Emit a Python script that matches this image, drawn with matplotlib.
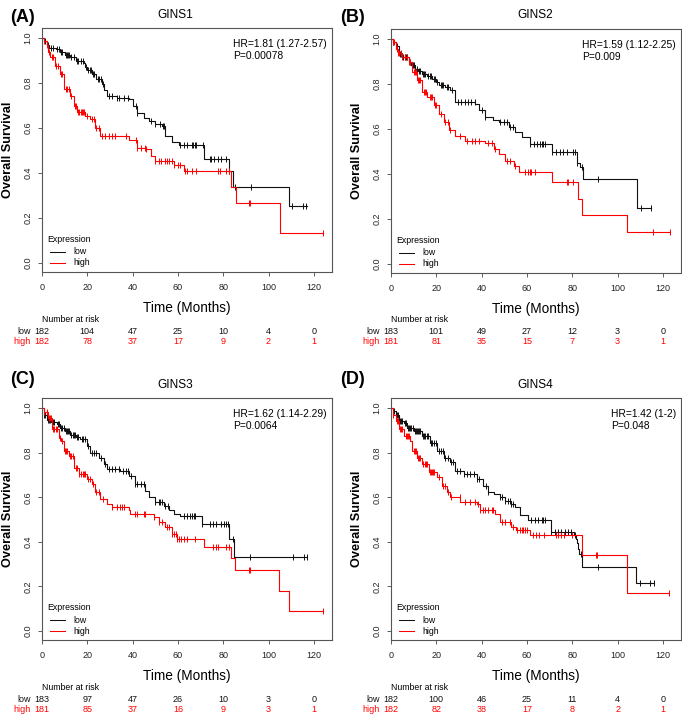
import numpy as np
import matplotlib
matplotlib.use("Agg")
import matplotlib.pyplot as plt

plt.rcParams["font.family"] = ["Liberation Sans", "DejaVu Sans"]

# ---- GINS1 ----
gins1_low_t = [0, 1, 2, 3, 6, 8, 10, 12.5, 15, 18.4, 19, 20, 22, 24, 26.5, 27.5, 28.7, 33, 38.3, 40, 42,
               45, 47.1, 50, 53, 54.5, 57.4, 60.4, 71.4, 82.5, 84.4, 109, 117]
gins1_low_s = [1.0, 0.985, 0.97, 0.955, 0.95, 0.94, 0.925, 0.914, 0.90, 0.891, 0.87, 0.86, 0.84, 0.82,
               0.795, 0.77, 0.743, 0.735, 0.728, 0.70, 0.668, 0.645, 0.631, 0.62, 0.608, 0.563, 0.54,
               0.523, 0.463, 0.408, 0.336, 0.252, 0.252]
gins1_low_cens = [1.5, 2.5, 4, 5, 6.5, 7.5, 8.5, 9, 10.5, 11, 11.5, 12, 13, 14, 15.5, 16, 17, 18, 19.5,
                  20.5, 21, 21.5, 22.5, 23, 24.5, 25, 26, 27, 29.5, 31, 33, 34, 36, 38, 41.3, 42, 48, 50,
                  52, 53.5, 54, 61, 62.5, 64, 66, 66.7, 67.5, 68, 71, 74, 74.5, 76, 77.5, 79, 81, 82.5,
                  85, 92.3, 110.5, 115, 116.5]
gins1_high_t = [0, 1, 2, 2.8, 3.7, 5.9, 8.1, 9.85, 12.5, 14, 15.5, 19.1, 21.3, 23.6, 25.8, 38.3, 42, 46,
                48, 50, 58.2, 62.6, 83.2, 85.5, 104.9, 124]
gins1_high_s = [1.0, 0.985, 0.97, 0.94, 0.914, 0.876, 0.839, 0.772, 0.743, 0.698, 0.672, 0.655, 0.639,
                0.601, 0.564, 0.549, 0.512, 0.506, 0.476, 0.455, 0.437, 0.408, 0.337, 0.266, 0.134, 0.134]
gins1_high_cens = [1, 2, 3, 4.5, 5, 6, 7, 8.5, 9, 10.5, 11, 12, 13, 14.5, 15, 16, 16.5, 17, 17.5, 18,
                   18.5, 20, 22, 23, 24, 25, 26.5, 28, 29.5, 31, 32.4, 37, 41.3, 42, 43.5, 45.5, 46, 50,
                   51.5, 52.5, 54.5, 55, 56, 57.5, 58.2, 60, 61, 63, 64, 66, 68, 77.5, 78.5, 81, 82.5,
                   91.3, 92, 124]
gins1_risk_low = [182, 104, 47, 25, 10, 4, 0]
gins1_risk_high = [182, 78, 37, 17, 9, 2, 1]

# ---- GINS2 ----
gins2_low_t = [0, 1, 2, 3.5, 5, 7.9, 9, 10.8, 12, 13.8, 16, 18.2, 20, 21.1, 24, 26.2, 28.4, 37.2, 38.7,
               41.6, 45, 47.5, 51.9, 54.8, 57.7, 61.4, 70.9, 81.9, 83.5, 84.8, 108.7, 114.9]
gins2_low_s = [1.0, 0.985, 0.97, 0.936, 0.92, 0.9, 0.885, 0.869, 0.858, 0.847, 0.835, 0.824, 0.81,
               0.795, 0.785, 0.772, 0.72, 0.712, 0.683, 0.653, 0.64, 0.631, 0.608, 0.586, 0.563, 0.534,
               0.50, 0.448, 0.43, 0.378, 0.251, 0.251]
gins2_low_cens = [1, 2, 2.5, 4, 4.5, 5.5, 6, 6.5, 7, 8.5, 9.5, 10, 11.5, 12.5, 13, 14, 14.5, 15, 16.5,
                  17, 17.5, 19, 19.5, 20.5, 22, 22.5, 23, 24.5, 25, 27, 29.5, 31, 32.5, 34, 35.5, 37, 40,
                  41.6, 48.2, 49.7, 51.2, 52.6, 54, 61.4, 62.9, 64.3, 65.8, 66.5, 67.2, 68, 70.9, 73,
                  74.5, 76, 77.5, 80.4, 81.2, 81.9, 84.1, 91.4, 110.3, 114.9]
gins2_high_t = [0, 1, 2, 3, 5, 7.9, 9.4, 11.6, 13.8, 16, 18.9, 21.1, 23.3, 25.5, 28.4, 32.8, 41.6, 45.3,
                47.5, 50.4, 54.1, 56.3, 70.9, 82.6, 84.5, 104.3, 123]
gins2_high_s = [1.0, 0.985, 0.957, 0.94, 0.92, 0.9, 0.855, 0.817, 0.765, 0.743, 0.705, 0.668, 0.631,
                0.594, 0.571, 0.549, 0.54, 0.512, 0.49, 0.46, 0.437, 0.408, 0.363, 0.289, 0.218, 0.144,
                0.144]
gins2_high_cens = [1, 1.5, 2.5, 3, 3.5, 4.5, 5, 6, 7, 8, 8.5, 10, 10.5, 11, 12, 12.5, 13, 14.5, 15,
                   15.5, 17, 17.5, 18, 19.5, 20, 22, 24, 25, 26, 30.6, 33.5, 35.7, 37.2, 38.7, 43, 44.5,
                   46, 51, 52.6, 54.8, 59.2, 60.6, 61.4, 62, 63.6, 77.5, 78.3, 80.4, 115.6, 123]
gins2_risk_low = [183, 101, 49, 27, 12, 3, 0]
gins2_risk_high = [181, 81, 35, 15, 7, 3, 1]

# ---- GINS3 ----
gins3_low_t = [0, 1, 2, 4, 6.6, 8.1, 10, 12.5, 15, 16.9, 19.9, 21.3, 25, 27.2, 28.7, 34.6, 38.3, 41.2,
               45.6, 47.1, 50, 53.8, 56, 58.2, 61.1, 70.7, 82.5, 84.7, 117]
gins3_low_s = [1.0, 0.97, 0.948, 0.936, 0.93, 0.911, 0.895, 0.881, 0.87, 0.859, 0.83, 0.8, 0.778,
               0.748, 0.726, 0.718, 0.696, 0.659, 0.629, 0.60, 0.578, 0.563, 0.541, 0.526, 0.515,
               0.481, 0.415, 0.33, 0.33]
gins3_low_cens = [1, 1.5, 2.5, 3, 3.5, 5, 5.5, 7, 7.5, 8.5, 9, 9.5, 10.5, 11, 11.5, 12, 13, 13.5, 14,
                  14.5, 15.5, 16, 17.5, 18, 19, 20.5, 22, 23, 24, 26, 28, 29.5, 31, 32.4, 34, 35.7,
                  37.2, 38, 39.5, 41.2, 42, 43.5, 45, 50, 51.5, 52.3, 53, 54.5, 55.5, 62.6, 64, 65.5,
                  66.3, 67, 67.7, 70.7, 74, 75.5, 77, 79, 80.5, 81.2, 82, 84.5, 92, 111, 115.6, 117]
gins3_high_t = [0, 1, 2.5, 4.4, 7.4, 8.5, 9.6, 11.8, 14, 16.2, 19.9, 22, 23.6, 25.8, 28.7, 31, 38.3, 39,
                49.3, 51.5, 54.5, 57.4, 59.7, 71.4, 83.2, 85, 104.6, 109, 124]
gins3_high_s = [1.0, 0.98, 0.955, 0.904, 0.867, 0.852, 0.807, 0.785, 0.733, 0.704, 0.681, 0.659, 0.622,
                0.593, 0.57, 0.556, 0.541, 0.526, 0.511, 0.489, 0.467, 0.437, 0.415, 0.378, 0.326,
                0.274, 0.181, 0.092, 0.092]
gins3_high_cens = [1, 2, 3, 3.5, 4, 5, 5.5, 6, 6.5, 8, 9, 10, 10.5, 11, 12.5, 13, 13.5, 15, 15.5, 16.5,
                   17, 18, 18.5, 19, 20.5, 21, 22.5, 24, 25, 27, 31, 33, 34.6, 35.4, 36.1, 41.2, 42, 45,
                   45.6, 49.3, 51.5, 53, 55.3, 56, 57.4, 58.2, 59, 59.7, 60.4, 61.2, 62.6, 64, 67.7,
                   75.5, 77, 77.8, 81, 82.5, 91.3, 92, 124]
gins3_risk_low = [183, 97, 47, 26, 10, 3, 0]
gins3_risk_high = [181, 85, 37, 16, 9, 3, 1]

# ---- GINS4 ----
gins4_low_t = [0, 1, 2, 3.5, 5.7, 7.2, 10.1, 13.7, 17.4, 20.3, 23.2, 26.1, 28.3, 32, 37.8, 40.7, 42.9,
               45.5, 48, 50.2, 53.1, 54.6, 56.8, 60.4, 70.7, 80.9, 81.6, 82, 82.6, 83.1, 84.1, 108.3, 116]
gins4_low_s = [1.0, 0.985, 0.97, 0.941, 0.933, 0.911, 0.896, 0.874, 0.844, 0.807, 0.778, 0.756, 0.719,
               0.704, 0.68, 0.652, 0.622, 0.615, 0.60, 0.585, 0.57, 0.556, 0.519, 0.50, 0.445, 0.43,
               0.415, 0.393, 0.37, 0.344, 0.289, 0.215, 0.215]
gins4_low_cens = [1, 1.5, 2, 2.5, 3, 4, 4.5, 5, 6, 6.5, 7.5, 8, 8.5, 9, 9.5, 10.5, 11, 11.5, 12, 12.5,
                  13, 14, 14.5, 15, 16, 16.5, 17.5, 18, 19, 20, 21, 22, 23, 24, 25, 26.5, 27.5, 29, 30.5,
                  32, 33.5, 35, 36.5, 38, 39, 42, 43, 48, 48.8, 50.2, 51.7, 52.4, 53.1, 53.9, 62, 63.5,
                  65, 66.5, 67.2, 68, 70.7, 72.3, 73.7, 75.2, 76.6, 78.1, 79.5, 81, 84, 91.4, 110,
                  114.5, 116]
gins4_high_t = [0, 1, 2, 3.5, 5.7, 8.6, 9.3, 11.5, 13.7, 16.6, 20.3, 22.5, 24.7, 26.1, 30.5, 37.8, 39.3,
                45.8, 48, 53.1, 55.3, 61.2, 84.5, 104, 122.5]
gins4_high_s = [1.0, 0.97, 0.941, 0.904, 0.874, 0.852, 0.807, 0.778, 0.748, 0.711, 0.689, 0.652, 0.622,
                0.60, 0.578, 0.57, 0.541, 0.526, 0.489, 0.467, 0.452, 0.43, 0.341, 0.17, 0.17]
gins4_high_cens = [1, 2.5, 3, 4, 4.5, 5, 6.5, 7, 7.5, 8, 10, 10.5, 11, 12, 12.5, 13, 14, 15, 15.5, 16,
                   17, 17.5, 18, 18.5, 19, 21, 23, 24, 25, 26.5, 30.4, 32.6, 34.8, 37, 38.5, 39.3, 40.7,
                   41.5, 43, 44.5, 45.2, 48.8, 50.2, 52.4, 54, 55.5, 57, 57.7, 58.4, 59.2, 59.9, 62.6,
                   64, 65.5, 67.7, 72.8, 73.5, 75, 76.4, 80.1, 90.4, 91.1, 122.5]
gins4_risk_low = [182, 100, 46, 25, 11, 4, 0]
gins4_risk_high = [182, 82, 38, 17, 8, 2, 1]

genes = ["GINS1", "GINS2", "GINS3", "GINS4"]
panel_labels = ["(A)", "(B)", "(C)", "(D)"]
hr_texts = ["HR=1.81 (1.27-2.57)\nP=0.00078", "HR=1.59 (1.12-2.25)\nP=0.009",
            "HR=1.62 (1.14-2.29)\nP=0.0064", "HR=1.42 (1-2)\nP=0.048"]
risk_times = [0, 20, 40, 60, 80, 100, 120]

curves = [
    (gins1_low_t, gins1_low_s, gins1_low_cens, gins1_high_t, gins1_high_s, gins1_high_cens,
     gins1_risk_low, gins1_risk_high),
    (gins2_low_t, gins2_low_s, gins2_low_cens, gins2_high_t, gins2_high_s, gins2_high_cens,
     gins2_risk_low, gins2_risk_high),
    (gins3_low_t, gins3_low_s, gins3_low_cens, gins3_high_t, gins3_high_s, gins3_high_cens,
     gins3_risk_low, gins3_risk_high),
    (gins4_low_t, gins4_low_s, gins4_low_cens, gins4_high_t, gins4_high_s, gins4_high_cens,
     gins4_risk_low, gins4_risk_high),
]

W, H = 682, 714
# axes boxes in pixels: left, top, right, bottom
boxes = [(42, 28, 332, 272), (391, 29, 681, 273), (42, 398, 332, 640), (391, 398, 681, 640)]
label_pos = [(10, 17), (340, 17), (10, 380), (340, 380)]
title_pos = [(175, 15), (535, 15), (175, 385), (535, 385)]

RED = "#ff0000"
BLK = "#111111"
PX = 72.0 / 100  # points per pixel


def km(ax, t, s, cens, color):
    t = np.asarray(t, float)
    s = np.asarray(s, float)
    ax.step(t, s, where="post", color=color, lw=0.8)
    c = np.asarray(cens, float)
    idx = np.searchsorted(t, c, side="right") - 1
    ax.plot(c, s[idx], ls="none", marker="|", ms=4.4, mew=0.7, color=color)


fig = plt.figure(figsize=(W / 100, H / 100), dpi=100)

for i, (lt, ls_, lc, ht, hs, hc, rl, rh) in enumerate(curves):
    l, t, r, b = boxes[i]
    ax = fig.add_axes([l / W, 1 - b / H, (r - l) / W, (b - t) / H])
    km(ax, lt, ls_, lc, BLK)
    km(ax, ht, hs, hc, RED)
    ax.set_xlim(0, 128)
    ax.set_ylim(-0.04, 1.045)
    ax.set_xticks(risk_times)
    ax.set_yticks([0, 0.2, 0.4, 0.6, 0.8, 1.0])
    ax.set_yticklabels(["0.0", "0.2", "0.4", "0.6", "0.8", "1.0"], rotation=90, va="center")
    ax.tick_params(axis="both", labelsize=6.5, length=3, width=0.6, color="#444444",
                   labelcolor="#222222")
    ax.tick_params(axis="x", pad=5)
    ax.tick_params(axis="y", pad=4)
    for sp in ax.spines.values():
        sp.set_color("#555555")
        sp.set_linewidth(0.8)

    ax.set_ylabel("Overall Survival", fontsize=9.2, fontweight="bold", va="center")
    ax.yaxis.set_label_coords(-0.118, 0.5)

    ax.text(0.983, 0.955, hr_texts[i], transform=ax.transAxes, ha="right", va="top",
            multialignment="left", fontsize=7.4, linespacing=1.25)

    # legend
    ax.text(0.017, 0.135, "Expression", transform=ax.transAxes, fontsize=6.3, va="center")
    ax.plot([0.028, 0.079], [0.082, 0.082], transform=ax.transAxes, color=BLK, lw=0.75)
    ax.plot([0.028, 0.079], [0.037, 0.037], transform=ax.transAxes, color=RED, lw=0.75)
    ax.text(0.107, 0.082, "low", transform=ax.transAxes, fontsize=6.3, va="center")
    ax.text(0.107, 0.037, "high", transform=ax.transAxes, fontsize=6.3, va="center")

    # x label and number at risk
    ax.annotate("Time (Months)", xy=(0.5, 0), xycoords="axes fraction",
                xytext=(0, -36 * PX), textcoords="offset points", ha="center", va="center",
                fontsize=9.8)
    ax.annotate("Number at risk", xy=(0, 0), xycoords=("data", "axes fraction"),
                xytext=(0, -47 * PX), textcoords="offset points", ha="left", va="center",
                fontsize=6.3)
    for name, vals, col, dy in (("low", rl, BLK, 59), ("high", rh, RED, 69)):
        ax.annotate(name, xy=(0, 0), xycoords=("data", "axes fraction"),
                    xytext=(-11.5 * PX, -dy * PX), textcoords="offset points", ha="right",
                    va="center", fontsize=6.5, color=col, annotation_clip=False)
        for xt, v in zip(risk_times, vals):
            ax.annotate(str(v), xy=(xt, 0), xycoords=("data", "axes fraction"),
                        xytext=(0, -dy * PX), textcoords="offset points", ha="center",
                        va="center", fontsize=6.5, color=col, annotation_clip=False)

    lx, ly = label_pos[i]
    fig.text(lx / W, 1 - ly / H, panel_labels[i], fontsize=13, fontweight="bold",
             ha="left", va="center")
    tx, ty = title_pos[i]
    fig.text(tx / W, 1 - ty / H, genes[i], fontsize=8.6, ha="center", va="center")

fig.savefig("out.png", dpi=100)
